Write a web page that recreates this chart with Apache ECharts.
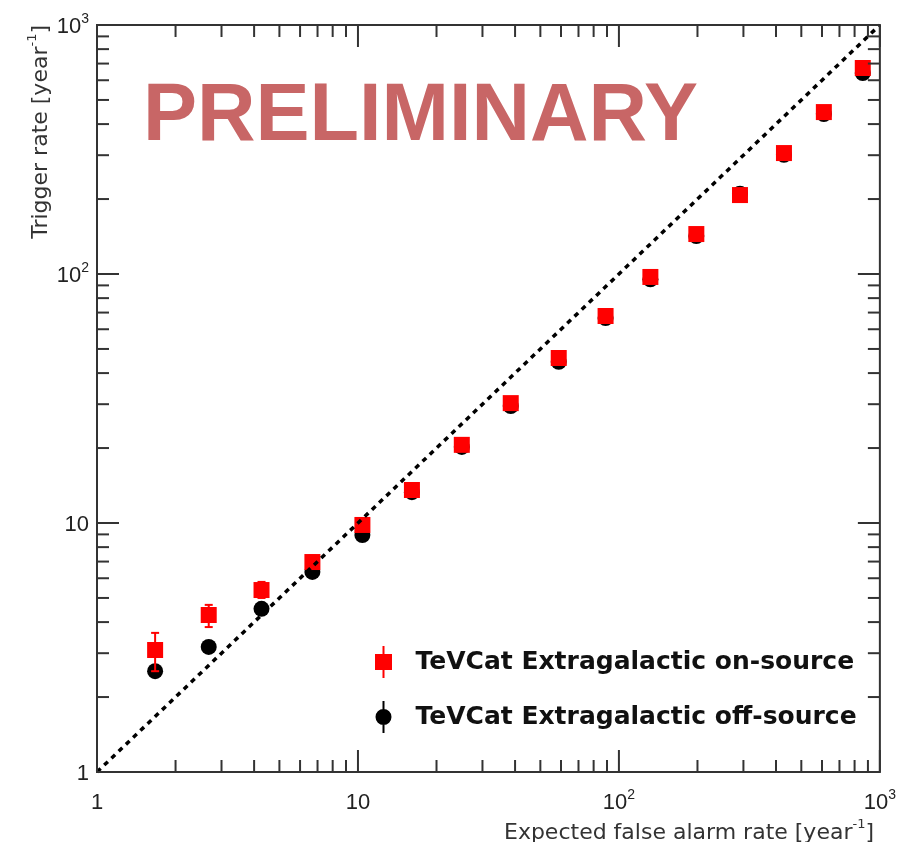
<!DOCTYPE html>
<html>
<head>
<meta charset="utf-8">
<script src="https://cdn.jsdelivr.net/npm/echarts@6/dist/echarts.min.js"></script>
<style>html,body{margin:0;padding:0;background:#fff;}#c{width:899px;height:842px;}</style>
</head>
<body>
<div id="c"></div>
<script>
// ---- data ----
var xRate = [1.67, 2.68, 4.27, 6.69, 10.4, 16.1, 25.0, 38.5, 58.8, 88.9, 132, 198, 291, 429, 610, 860];
var onSource = [3.09, 4.27, 5.38, 6.97, 9.82, 13.57, 20.6, 30.3, 46.0, 67.8, 97.3, 144.7, 207.5, 306, 447, 672];
var onLow  = [2.54, 3.82, 5.00, 6.60, 9.40, 13.1, 20.0, 29.6, 45.0, 66.6, 95.8, 143, 205, 303, 443, 667];
var onHigh = [3.62, 4.69, 5.80, 7.40, 10.3, 14.1, 21.2, 31.0, 47.0, 69.0, 98.8, 146.5, 210, 309, 451, 677];
var offSource = [2.54, 3.18, 4.52, 6.36, 8.95, 13.3, 20.2, 29.5, 44.4, 66.5, 95.2, 142, 210, 301, 439, 641];
var offLow  = [2.38, 3.00, 4.30, 6.10, 8.65, 12.9, 19.7, 29.0, 43.7, 65.6, 94.1, 140.7, 208, 299, 436, 637];
var offHigh = [2.70, 3.36, 4.74, 6.62, 9.25, 13.7, 20.7, 30.0, 45.1, 67.4, 96.3, 143.3, 212, 303, 442, 645];
var diagonal = [[1, 1], [1000, 1000]];
var majorTicks = [1, 10, 100, 1000];
var minorTicks = [2,3,4,5,6,7,8,9,20,30,40,50,60,70,80,90,200,300,400,500,600,700,800,900];
var tickLabels = {1: '{b|1}', 10: '{b|10}', 100: '{b|10}{s|2}', 1000: '{b|10}{s|3}'};
var seriesNames = ['TeVCat Extragalactic on-source', 'TeVCat Extragalactic off-source'];

// ---- build ----
function pts(ys) { return xRate.map(function (x, i) { return [x, ys[i]]; }); }
function errs(ys, lo, hi) { return xRate.map(function (x, i) { return [x, ys[i], lo[i], hi[i]]; }); }
var tickData = [];
majorTicks.forEach(function (v) { tickData.push([v, v, 0, 0]); tickData.push([v, v, 0, 1]); });
minorTicks.forEach(function (v) { tickData.push([v, v, 1, 0]); tickData.push([v, v, 1, 1]); });

var labelRich = {
  b: {fontSize: 22, fontFamily: 'Liberation Sans', color: '#222', lineHeight: 26, verticalAlign: 'bottom'},
  s: {fontSize: 14, fontFamily: 'Liberation Sans', color: '#222', lineHeight: 26, verticalAlign: 'top'}
};
function fmt(v) { var r = Math.round(v); return tickLabels[r] || ''; }

function errRender(color, caps) {
  return function (params, api) {
    var x = api.value(0), lo = api.value(2), hi = api.value(3);
    var p1 = api.coord([x, lo]), p2 = api.coord([x, hi]);
    var st = {stroke: color, lineWidth: 2};
    var ch = [{type: 'line', shape: {x1: p1[0], y1: p1[1], x2: p2[0], y2: p2[1]}, style: st}];
    if (caps) {
      ch.push({type: 'line', shape: {x1: p1[0] - 4, y1: p1[1], x2: p1[0] + 4, y2: p1[1]}, style: st});
      ch.push({type: 'line', shape: {x1: p2[0] - 4, y1: p2[1], x2: p2[0] + 4, y2: p2[1]}, style: st});
    }
    return {type: 'group', children: ch};
  };
}

function tickRender(params, api) {
  var cs = params.coordSys;
  var v = api.value(0), minor = api.value(2), orient = api.value(3);
  var len = minor ? 12 : 22;
  var st = {stroke: '#333', lineWidth: 2};
  if (orient === 0) {
    var px = api.coord([v, 1])[0];
    return {type: 'group', children: [
      {type: 'line', shape: {x1: px, y1: cs.y + cs.height, x2: px, y2: cs.y + cs.height - len}, style: st},
      {type: 'line', shape: {x1: px, y1: cs.y, x2: px, y2: cs.y + len}, style: st}
    ]};
  } else {
    var py = api.coord([1, v])[1];
    return {type: 'group', children: [
      {type: 'line', shape: {x1: cs.x, y1: py, x2: cs.x + len, y2: py}, style: st},
      {type: 'line', shape: {x1: cs.x + cs.width, y1: py, x2: cs.x + cs.width - len, y2: py}, style: st}
    ]};
  }
}

var redIcon = 'path://M0,8 H7.5 V0 H9.5 V8 H17 V24 H9.5 V32 H7.5 V24 H0 Z';
var blackIcon = 'path://M0.5,16 A8,8 0 1,1 16.5,16 A8,8 0 1,1 0.5,16 Z M7.5,0 H9.5 V32 H7.5 Z';

var titleRich = {
  n: {fontFamily: 'DejaVu Sans', fontSize: 22, fill: '#333', lineHeight: 26, verticalAlign: 'bottom'},
  s: {fontFamily: 'DejaVu Sans', fontSize: 13, fill: '#333', lineHeight: 26, verticalAlign: 'top'}
};

var chart = echarts.init(document.getElementById('c'), null, {renderer: 'canvas'});
chart.setOption({
  animation: false,
  backgroundColor: '#fff',
  grid: {left: 97, top: 25, width: 785, height: 747, show: true, borderColor: '#333', borderWidth: 2, backgroundColor: 'transparent'},
  xAxis: {
    type: 'log', logBase: 10, min: 1, max: 1000, splitNumber: 3,
    axisLine: {show: false}, axisTick: {show: false}, splitLine: {show: false},
    axisLabel: {margin: 16, formatter: fmt, rich: labelRich, showMinLabel: true, showMaxLabel: true}
  },
  yAxis: {
    type: 'log', logBase: 10, min: 1, max: 1000, splitNumber: 3,
    axisLine: {show: false}, axisTick: {show: false}, splitLine: {show: false},
    axisLabel: {margin: 8, formatter: fmt, rich: labelRich, showMinLabel: true, showMaxLabel: true}
  },
  legend: {
    orient: 'vertical', left: 370, top: 641, itemWidth: 54, itemHeight: 32, itemGap: 23,
    selectedMode: false,
    textStyle: {fontFamily: 'DejaVu Sans', fontWeight: 'bold', fontSize: 25, color: '#111'},
    data: [{name: seriesNames[0], icon: redIcon}, {name: seriesNames[1], icon: blackIcon}]
  },
  graphic: [
    {type: 'text', left: 143, top: 77, z: 1, style: {text: 'PRELIMINARY', fill: '#c86666', font: 'bold 81px "Liberation Sans", Arial, sans-serif'}},
    {type: 'text', x: 39, y: 25, rotation: Math.PI / 2, z: 10, style: {
      text: '{n|Trigger rate [year}{s|-1}{n|]}', align: 'right', verticalAlign: 'middle', rich: titleRich}},
    {type: 'text', x: 874, y: 831, z: 10, style: {
      text: '{n|Expected false alarm rate [year}{s|-1}{n|]}', align: 'right', verticalAlign: 'middle', rich: titleRich}}
  ],
  series: [
    {type: 'custom', name: 'ticks', data: tickData, renderItem: tickRender, clip: false, silent: true, z: 5},
    {type: 'custom', name: 'offErr', data: errs(offSource, offLow, offHigh), renderItem: errRender('#000', false), z: 2, silent: true},
    {type: 'scatter', name: seriesNames[1], data: pts(offSource), symbol: 'circle', symbolSize: 16, itemStyle: {color: '#000', opacity: 1}, z: 2},
    {type: 'custom', name: 'onErr', data: errs(onSource, onLow, onHigh), renderItem: errRender('#ff0000', true), z: 3, silent: true},
    {type: 'scatter', name: seriesNames[0], data: pts(onSource), symbol: 'rect', symbolSize: 16, itemStyle: {color: '#ff0000', opacity: 1}, z: 3},
    {type: 'line', name: 'diag', data: diagonal, showSymbol: false, symbol: 'none', z: 4, silent: true,
      lineStyle: {color: '#000', width: 3.5, type: [5, 5]}}
  ]
});
</script>
</body>
</html>
